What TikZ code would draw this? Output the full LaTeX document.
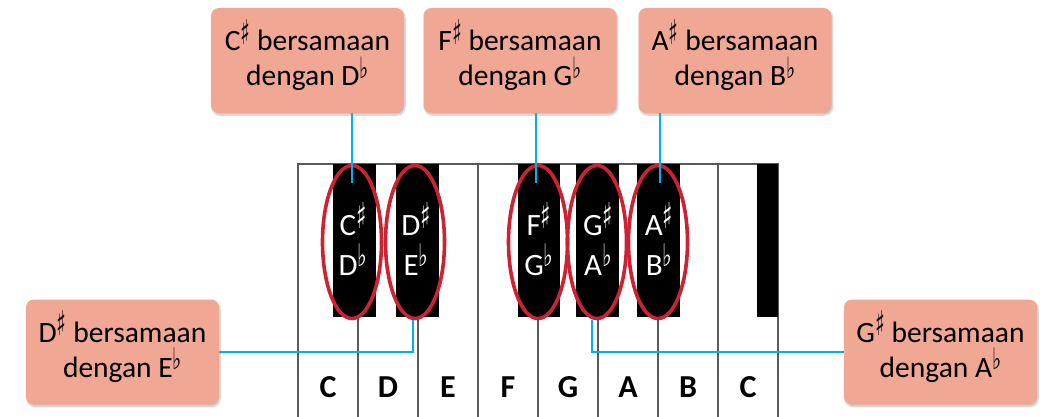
\documentclass[tikz,border=0pt]{standalone}
\usepackage{fontspec}
\setmainfont{Carlito}
\newfontfamily\symfont{DejaVu Sans}
\usetikzlibrary{shapes.geometric,shadows.blur}
\definecolor{salmon}{RGB}{240,167,147}
\definecolor{ovred}{RGB}{204,34,51}
\definecolor{linkblue}{RGB}{0,176,240}
\definecolor{keygray}{RGB}{89,89,89}
\newcommand\shp{\smash{\raisebox{0.22em}{\scalebox{0.6}[1]{\symfont\bfseries\fontsize{1.15em}{1em}\selectfont ♯}}}}
\newcommand\flt{\smash{\raisebox{0.26em}{\scalebox{0.66}[1]{\symfont\fontsize{1.0em}{1em}\selectfont ♭}}}}
\tikzset{
  infobox/.style={rectangle, rounded corners=8pt, fill=salmon, minimum width=193pt,
    minimum height=105pt, align=center, inner sep=0pt,
    font=\fontsize{29.5}{35}\selectfont,
    blur shadow={shadow xshift=1pt, shadow yshift=-2pt, shadow blur steps=6, shadow opacity=25}},
  blackkey/.style={fill=black, draw=none},
  ring/.style={ellipse, draw=ovred, line width=3.6pt, minimum width=59pt, minimum height=153pt, inner sep=0pt},
  keylabel/.style={text=white, align=center, anchor=base, font=\fontsize{31}{40}\selectfont},
  notelabel/.style={font=\bfseries\fontsize{32}{34}\selectfont},
  link/.style={draw=linkblue, line width=1.3pt},
  keyline/.style={draw=keygray, line width=1.6pt}
}
\begin{document}
\begin{tikzpicture}[x=1pt,y=-1pt]
\useasboundingbox (0,0) rectangle (1044,417);
% white keys
\fill[white] (298,164) rectangle (778,417);
\draw[keyline] (298,417) -- (298,164) -- (778,164) -- (778,417);
\foreach \x in {358,418,478,538,598,658,718}
  \draw[keyline] (\x,164) -- (\x,417);
% black keys
\fill[blackkey] (333,164) rectangle (376,317);
\fill[blackkey] (396,164) rectangle (439,317);
\fill[blackkey] (518,164) rectangle (560,317);
\fill[blackkey] (576,164) rectangle (619,317);
\fill[blackkey] (637,164) rectangle (680,317);
\fill[blackkey] (757,164) rectangle (778,317);
% rings
\node[ring] (eC) at (352,242) {};
\node[ring] (eD) at (415,242) {};
\node[ring] (eF) at (538,242) {};
\node[ring] (eG) at (597,242) {};
\node[ring] (eA) at (658,242) {};
% black key labels
\node[keylabel] (kC) at (353,275) {C\shp\\D\flt};
\node[keylabel] (kD) at (416,275) {D\shp\\E\flt};
\node[keylabel] (kF) at (539,275) {F\shp\\G\flt};
\node[keylabel] (kG) at (598,275) {G\shp\\A\flt};
\node[keylabel] (kA) at (659,275) {A\shp\\B\flt};
% white key names
\node[notelabel] (n1) at (328,387) {C};
\node[notelabel] (n2) at (388,387) {D};
\node[notelabel] (n3) at (448,387) {E};
\node[notelabel] (n4) at (508,387) {F};
\node[notelabel] (n5) at (568,387) {G};
\node[notelabel] (n6) at (628,387) {A};
\node[notelabel] (n7) at (688,387) {B};
\node[notelabel] (n8) at (748,387) {C};
% boxes
\node[infobox] (bC) at (307.5,60.5) {C\shp{} bersamaan\\dengan D\flt};
\node[infobox] (bF) at (520,60.5) {F\shp{} bersamaan\\dengan G\flt};
\node[infobox] (bA) at (735,60.5) {A\shp{} bersamaan\\dengan B\flt};
\node[infobox] (bD) at (122.5,352) {D\shp{} bersamaan\\dengan E\flt};
\node[infobox] (bG) at (940.5,352) {G\shp{} bersamaan\\dengan A\flt};
% connectors
\coordinate (tC) at (352,183);
\coordinate (tF) at (536,183);
\coordinate (tA) at (660,183);
\draw[link] (tC |- bC.south) -- (tC);
\draw[link] (tF |- bF.south) -- (tF);
\draw[link] (tA |- bA.south) -- (tA);
\draw[link] ([xshift=-2pt]eD.south) |- (bD.east);
\draw[link] ([xshift=-5pt]eG.south) |- (bG.west);
\end{tikzpicture}
\end{document}
